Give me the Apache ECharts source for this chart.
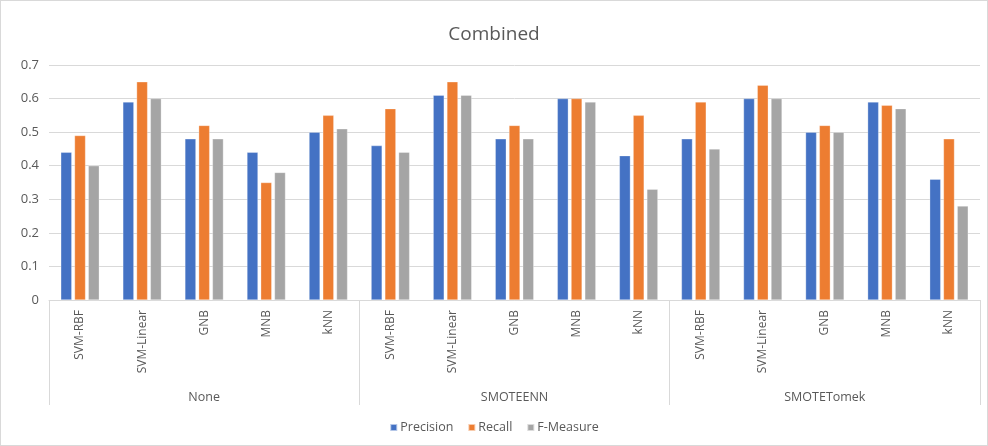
<!DOCTYPE html>
<html>
<head>
<meta charset="utf-8">
<script src="https://cdn.jsdelivr.net/npm/echarts@6/dist/echarts.min.js"></script>
<style>
html,body{margin:0;padding:0;background:#fff;}
#c{width:988px;height:446px;box-sizing:border-box;border:1px solid #d9d9d9;}
</style>
</head>
<body>
<div id="c"></div>
<script>
const groups = ['None', 'SMOTEENN', 'SMOTETomek'];
const models = ['SVM-RBF', 'SVM-Linear', 'GNB', 'MNB', 'kNN'];
const categories = [].concat(models, models, models);
const precision = [0.44, 0.59, 0.48, 0.44, 0.50, 0.46, 0.61, 0.48, 0.60, 0.43, 0.48, 0.60, 0.50, 0.59, 0.36];
const recall    = [0.49, 0.65, 0.52, 0.35, 0.55, 0.57, 0.65, 0.52, 0.60, 0.55, 0.59, 0.64, 0.52, 0.58, 0.48];
const fmeasure  = [0.40, 0.60, 0.48, 0.38, 0.51, 0.44, 0.61, 0.48, 0.59, 0.33, 0.45, 0.60, 0.50, 0.57, 0.28];
const yTicks = [0, 0.1, 0.2, 0.3, 0.4, 0.5, 0.6, 0.7];

const FONT = '"Open Sans", "Liberation Sans", sans-serif';
const chart = echarts.init(document.getElementById('c'), null, {renderer: 'canvas'});
const barStyle = c => ({color: c, borderColor: 'rgba(255,255,255,0.6)', borderWidth: 0.5});
chart.setOption({
  animation: false,
  textStyle: {fontFamily: FONT},
  title: {
    text: 'Combined', left: 'center', top: 19,
    textStyle: {fontFamily: FONT, fontSize: 19, fontWeight: 'normal', color: '#595959'}
  },
  legend: {
    bottom: 6, left: 'center', itemWidth: 7, itemHeight: 7, itemGap: 14,
    icon: 'rect',
    textStyle: {fontFamily: FONT, fontSize: 12.5, color: '#595959', padding: [0, 0, 0, -2]},
    data: ['Precision', 'Recall', 'F-Measure']
  },
  grid: {left: 48, right: 7, top: 64, bottom: 145, containLabel: false},
  xAxis: [
    {
      type: 'category', data: categories, position: 'bottom',
      axisLine: {show: true, lineStyle: {color: '#d9d9d9', width: 1}},
      axisTick: {show: false},
      axisLabel: {rotate: 90, interval: 0, margin: 10, color: '#595959', fontSize: 12, fontFamily: FONT}
    },
    {
      type: 'category', data: groups, position: 'bottom',
      axisLine: {show: false},
      axisTick: {show: true, length: 105, interval: 0, lineStyle: {color: '#d9d9d9'}},
      axisLabel: {interval: 0, margin: 91, color: '#595959', fontSize: 12.5, fontFamily: FONT}
    }
  ],
  yAxis: {
    type: 'value', min: 0, max: 0.7, interval: 0.1,
    axisLine: {show: false}, axisTick: {show: false},
    splitLine: {lineStyle: {color: '#d9d9d9', width: 1}},
    axisLabel: {color: '#595959', fontSize: 13, fontFamily: FONT, margin: 10,
      formatter: v => { const t = yTicks.find(x => Math.abs(x - v) < 1e-9); return t === undefined ? '' : String(t); }}
  },
  series: [
    {name: 'Precision', type: 'bar', xAxisIndex: 0, data: precision, barWidth: 11, barGap: '25%', itemStyle: barStyle('#4472c4')},
    {name: 'Recall', type: 'bar', xAxisIndex: 0, data: recall, barWidth: 11, barGap: '25%', itemStyle: barStyle('#ed7d31')},
    {name: 'F-Measure', type: 'bar', xAxisIndex: 0, data: fmeasure, barWidth: 11, barGap: '25%', itemStyle: barStyle('#a5a5a5')}
  ]
});
</script>
</body>
</html>
